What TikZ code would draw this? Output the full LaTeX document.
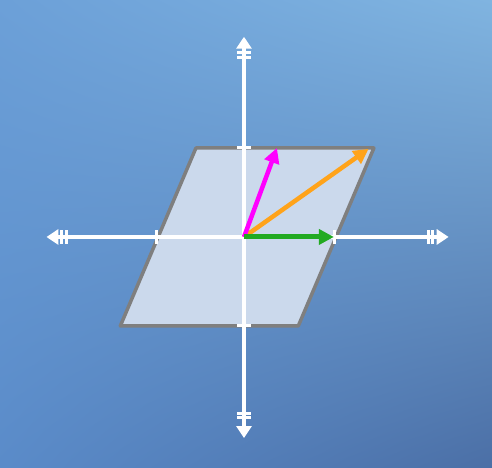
\documentclass[tikz,border=0pt]{standalone}
\usepackage{tikz}
\usetikzlibrary{arrows.meta, shadings}
\definecolor{bgtl}{HTML}{6CA0D8}
\definecolor{bgtr}{HTML}{80B4E0}
\definecolor{bgbl}{HTML}{5A8BC9}
\definecolor{bgbr}{HTML}{4B6FA6}
\definecolor{planefill}{HTML}{CBD9EC}
\definecolor{planeedge}{HTML}{7F7F7F}
\definecolor{vecgreen}{HTML}{22AA22}
\definecolor{vecorange}{HTML}{FFA31A}
\definecolor{vecmagenta}{HTML}{FF00FF}
\begin{document}
\begin{tikzpicture}[x=89pt, y=89pt,
    axis/.style={white, line width=4pt},
    axistip/.style={{Triangle[length=12pt,width=15pt]}-{Triangle[length=12pt,width=15pt]}},
    vec/.style={line width=4.5pt, -{Triangle[length=15pt,width=15pt]}}]
    % 背景
    \shade[upper left=bgtl, upper right=bgtr, lower left=bgbl, lower right=bgbr]
        (-2.742,-2.596) rectangle (2.787,2.663);
    \useasboundingbox (-2.742,-2.596) rectangle (2.787,2.663);

    % 平行四边形
    \coordinate (O) at (0,0);
    \coordinate (P1) at (-1.39,-1);
    \coordinate (P2) at (0.61,-1);
    \coordinate (P3) at (1.46,1);
    \coordinate (P4) at (-0.54,1);
    \draw[planeedge, fill=planefill, line width=3.5pt, line join=round]
        (P1) -- (P2) -- (P3) -- (P4) -- cycle;

    % 坐标轴
    \coordinate (xl) at (-2.22,0);
    \coordinate (xr) at (2.30,0);
    \coordinate (yb) at (0,-2.26);
    \coordinate (yt) at (0,2.25);
    \draw[axis, axistip] (xl) -- (xr);
    \draw[axis, axistip] (yb) -- (yt);

    % 刻度
    \foreach \t in {-2.05,-1.99,-0.98,1.02,2.07,2.12} {
        \draw[axis, line width=3pt] (\t,-0.08) -- (\t,0.08);
    }
    \foreach \t in {-2.03,-1.98,-1,1,2.02,2.07} {
        \draw[axis, line width=3pt] (-0.08,\t) -- (0.08,\t);
    }

    % 向量
    \coordinate (g) at (1.01,0);
    \coordinate (m) at (0.37,1.0);
    \coordinate (s) at (1.40,0.99);
    \draw[vec, vecorange] (O) -- (s);
    \draw[vec, vecmagenta] (O) -- (m);
    \draw[vec, vecgreen, line width=5pt] (O) -- (g);
\end{tikzpicture}
\end{document}
